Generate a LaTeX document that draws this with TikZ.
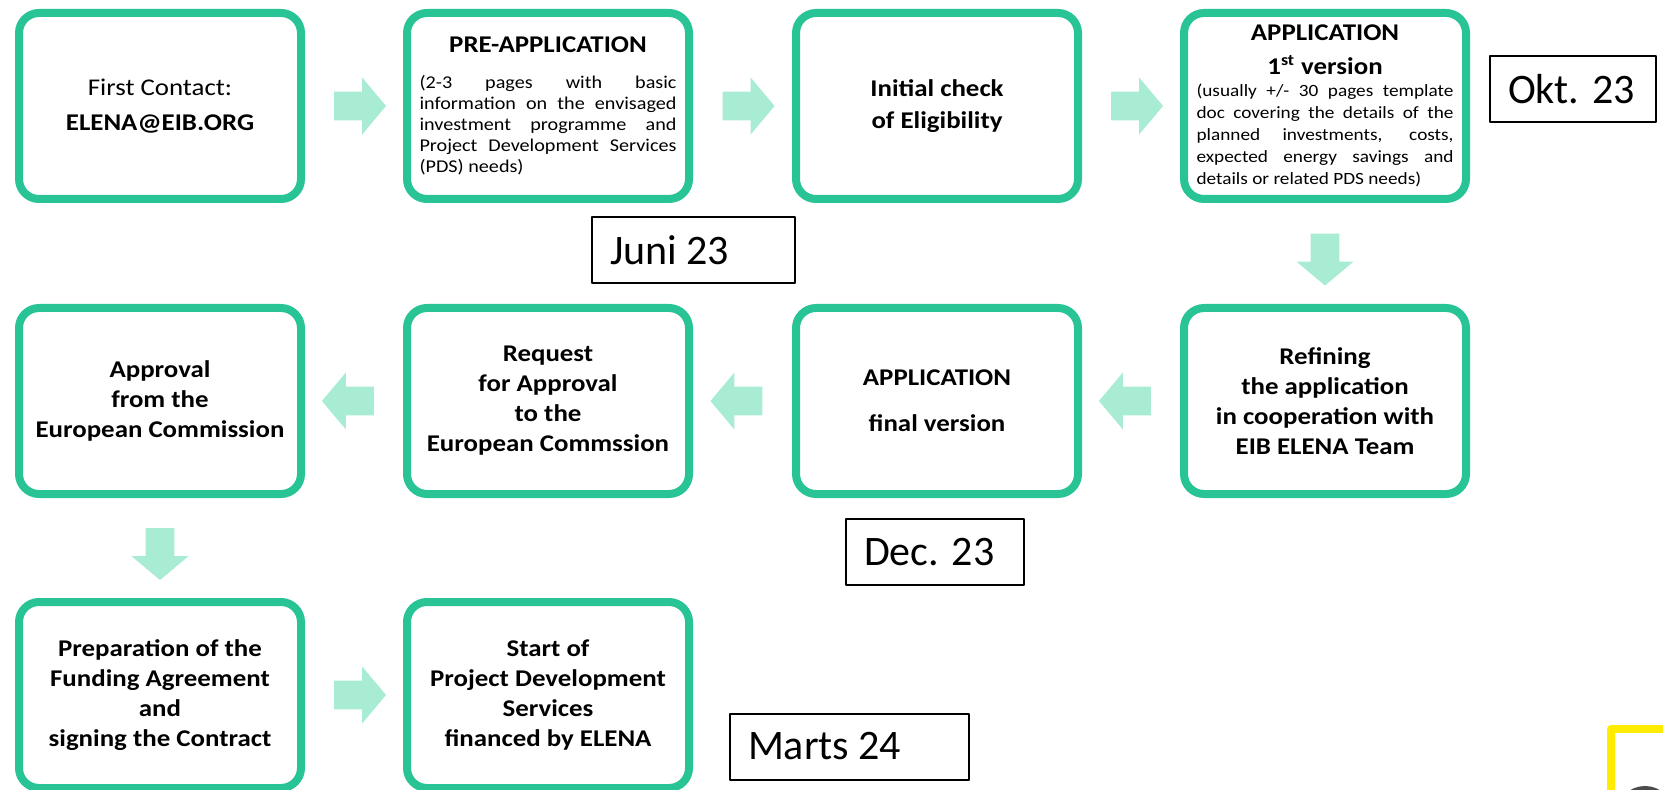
\documentclass[tikz,border=0pt]{standalone}
\usepackage{fontspec}
\setmainfont{Carlito}
\newfontfamily\stagefont{Carlito}[FakeStretch=1.12]
\usetikzlibrary{shapes.arrows,calc}
\definecolor{stageline}{RGB}{40,196,150}
\definecolor{arrowfill}{RGB}{168,236,212}
\definecolor{markyellow}{RGB}{255,236,0}
\newcommand{\fullline}[1]{\makebox[128.5pt][s]{#1}}
\newcommand{\lastline}[1]{\makebox[128.5pt][l]{#1}}
\begin{document}
\begin{tikzpicture}[x=0.5pt,y=-0.5pt,line join=round,
	stage/.style={draw=stageline,line width=4pt,rounded corners=10pt,fill=white,minimum width=141pt,minimum height=93pt,inner sep=0pt,align=center,font=\stagefont\fontsize{12}{15}\selectfont\bfseries},
	note/.style={text width=128.5pt,align=flush center},
	datebox/.style={draw=black,line width=1pt,inner xsep=9pt,inner ysep=0pt,minimum height=33pt,text width=#1,align=flush left,font=\fontsize{21}{25}\selectfont},
	flow/.style={single arrow,fill=arrowfill,draw=none,minimum height=26pt,inner sep=7pt,single arrow head extend=7pt,single arrow tip angle=100,shape border rotate=#1}]
	\useasboundingbox (0,0) rectangle (1663,790);
	\node[stage] (first) at (160,106) {\mdseries First Contact:\\[2.5pt]\bfseries ELENA@EIB.ORG};
	\node[stage,note] (preapp) at (548,106) {PRE-APPLICATION\\[7.5pt]\mdseries\fontsize{9}{10.5}\selectfont
		\fullline{(2-3 pages with basic}\\
		\fullline{information on the envisaged}\\
		\fullline{investment programme and}\\
		\fullline{Project Development Services}\\
		\lastline{(PDS) needs)}\par};
	\node[stage,note] (app1) at (1325,106) {APPLICATION\\[2pt]1\textsuperscript{st} version\\[0pt]\mdseries\fontsize{8.6}{11}\selectfont
		\fullline{(usually +/- 30 pages template}\\
		\fullline{doc covering the details of the}\\
		\fullline{planned investments, costs,}\\
		\fullline{expected energy savings and}\\
		\lastline{details or related PDS needs)}\par};
	\node[stage] (check) at (937,106) {Initial check\\[1pt]of Eligibility};
	\node[stage] (refine) at (1325,401) {Refining\\the application\\in cooperation with\\EIB ELENA Team};
	\node[stage] (appfinal) at (937,401) {APPLICATION\\[8pt]final version};
	\node[stage] (request) at (548,401) {Request\\for Approval\\to the\\European Commssion};
	\node[stage] (approval) at (160,401) {Approval\\from the\\European Commission};
	\node[stage] (prepare) at (160,695) {Preparation of the\\Funding Agreement\\and\\signing the Contract};
	\node[stage] (start) at (548,695) {Start of\\Project Development\\Services\\financed by ELENA};
	\node[flow=0] (f1) at ($(first.east)!0.5!(preapp.west)$) {};
	\node[flow=0] (f2) at ($(preapp.east)!0.5!(check.west)$) {};
	\node[flow=0] (f3) at ($(check.east)!0.5!(app1.west)$) {};
	\node[flow=270] (f4) at ($(app1.south)!0.5!(refine.north)$) {};
	\node[flow=180] (f5) at ($(refine.west)!0.5!(appfinal.east)$) {};
	\node[flow=180] (f6) at ($(appfinal.west)!0.5!(request.east)$) {};
	\node[flow=180] (f7) at ($(request.west)!0.5!(approval.east)$) {};
	\node[flow=270] (f8) at ($(approval.south)!0.5!(prepare.north)$) {};
	\node[flow=0] (f9) at ($(prepare.east)!0.5!(start.west)$) {};
	\node[datebox=83.5pt] (juni) at (693.5,250) {Juni 23};
	\node[datebox=65pt] (okt) at (1573,89) {Okt. 23};
	\node[datebox=71pt] (dec) at (935,552) {Dec. 23};
	\node[datebox=101.5pt] (marts) at (849.5,746.5) {Marts 24};
	\draw[markyellow,line width=4pt] (1611,830) |- (1700,729);
	\draw[black!70,line width=2pt] (1645,815) circle[radius=27];
\end{tikzpicture}
\end{document}
